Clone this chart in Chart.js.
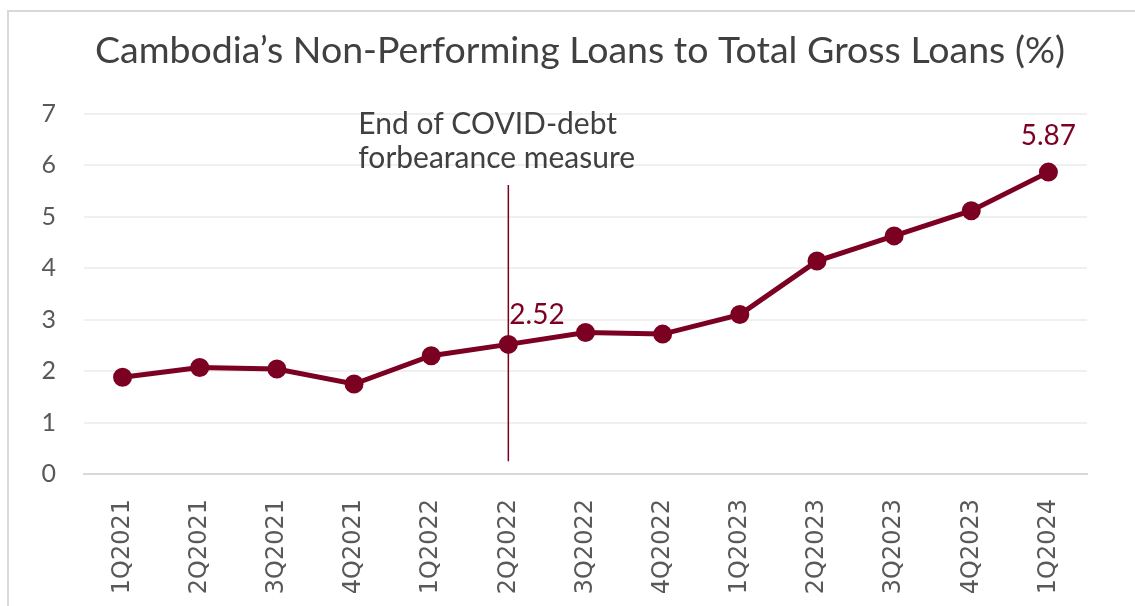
<!DOCTYPE html>
<html>
<head>
<meta charset="utf-8">
<title>Cambodia NPL ratio</title>
<script src="https://cdn.jsdelivr.net/npm/chart.js@4/dist/chart.umd.min.js"></script>
<style>
  html, body { margin: 0; padding: 0; background: #fff; }
  #wrap { position: relative; width: 1135px; height: 606px; overflow: hidden; }
  #frame { position: absolute; left: 7px; top: 10px; right: -4px; bottom: -4px; border: 2px solid #d9d9d9; }
  canvas { position: absolute; left: 0; top: 0; }
</style>
</head>
<body>
<div id="wrap">
  <div id="frame"></div>
  <canvas id="npl" width="1135" height="606"></canvas>
</div>
<script>
const quarters = ['1Q2021', '2Q2021', '3Q2021', '4Q2021', '1Q2022', '2Q2022', '3Q2022',
  '4Q2022', '1Q2023', '2Q2023', '3Q2023', '4Q2023', '1Q2024'];
const nplRatio = [1.88, 2.07, 2.04, 1.75, 2.30, 2.52, 2.75, 2.72, 3.10, 4.14, 4.63, 5.12, 5.87];
const labelledQuarters = ['2Q2022', '1Q2024'];
const markerQuarter = '2Q2022';
const markerRange = [0.25, 5.62];
const markerNote = ['End of COVID-debt', 'forbearance measure'];
const chartTitle = 'Cambodia\u2019s Non-Performing Loans to Total Gross Loans (%)';

const wine = '#7b0022';
const textGray = '#404040';

// title, forbearance marker and value labels drawn straight onto the canvas
const extras = {
  id: 'extras',
  afterDatasetsDraw(chart) {
    const { ctx, scales: { x, y } } = chart;
    ctx.save();

    ctx.fillStyle = textGray;
    ctx.font = '37.5px Lato';
    ctx.textAlign = 'center';
    ctx.textBaseline = 'alphabetic';
    ctx.fillText(chartTitle, 580, 63);

    const mx = x.getPixelForValue(quarters.indexOf(markerQuarter));
    ctx.strokeStyle = wine;
    ctx.lineWidth = 1.5;
    ctx.beginPath();
    ctx.moveTo(mx, y.getPixelForValue(markerRange[1]));
    ctx.lineTo(mx, y.getPixelForValue(markerRange[0]));
    ctx.stroke();

    ctx.font = '30px Lato';
    ctx.textAlign = 'left';
    markerNote.forEach((line, i) => {
      ctx.fillText(line, mx - 150, y.getPixelForValue(7) + 20 + i * 34);
    });

    // value labels: the last one sits centred over its point
    ctx.fillStyle = wine;
    ctx.font = '28px Lato';
    const meta = chart.getDatasetMeta(0);
    labelledQuarters.forEach(q => {
      const i = quarters.indexOf(q);
      const pt = meta.data[i];
      const last = i === quarters.length - 1;
      ctx.textAlign = last ? 'center' : 'left';
      ctx.fillText(nplRatio[i].toFixed(2), last ? pt.x : pt.x + 1, pt.y - (last ? 27 : 20));
    });
    ctx.restore();
  }
};

new Chart(document.getElementById('npl'), {
  type: 'line',
  data: {
    labels: quarters,
    datasets: [{
      label: 'NPL ratio',
      data: nplRatio,
      borderColor: wine,
      backgroundColor: wine,
      borderWidth: 5,
      pointRadius: 7,
      pointHoverRadius: 7,
      tension: 0,
    }]
  },
  options: {
    responsive: false,
    animation: false,
    events: [],
    layout: { padding: { top: 114, left: 30, right: 48, bottom: 0 } },
    plugins: {
      legend: { display: false },
      tooltip: { enabled: false },
      title: { display: false },
    },
    scales: {
      x: {
        offset: true,
        grid: { display: false },
        border: { color: '#d9d9d9', width: 2 },
        ticks: {
          minRotation: 90,
          maxRotation: 90,
          padding: 17,
          color: '#595959',
          font: { family: 'DejaVu Sans', size: 24 },
        },
        afterFit(scale) { scale.height = 132; },
      },
      y: {
        min: 0,
        max: 7,
        grid: { color: '#f0f0f0', lineWidth: 2, drawTicks: false },
        border: { display: false },
        ticks: {
          stepSize: 1,
          padding: 28,
          color: '#595959',
          font: { family: 'Lato', size: 25 },
        },
        afterFit(scale) { scale.width = 54; },
      }
    }
  },
  plugins: [extras]
});
</script>
</body>
</html>
